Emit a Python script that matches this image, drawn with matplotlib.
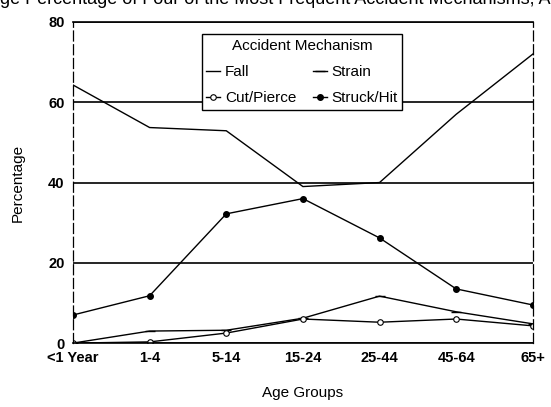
import matplotlib
matplotlib.use("Agg")
import matplotlib.pyplot as plt

age_groups = ["<1 Year", "1-4", "5-14", "15-24", "25-44", "45-64", "65+"]
fall = [64.3, 53.7, 52.9, 39.0, 40.0, 57.0, 72.0]
strain = [0.0, 3.0, 3.2, 6.2, 11.7, 7.8, 4.8]
cut_pierce = [0.0, 0.3, 2.5, 6.0, 5.2, 6.0, 4.3]
struck_hit = [7.0, 11.8, 32.2, 36.0, 26.2, 13.5, 9.5]

plt.rcParams["font.family"] = ["Liberation Sans", "DejaVu Sans"]

fig = plt.figure(figsize=(5.51, 4.07), dpi=100)
ax = fig.add_axes([0.1325, 0.157, 0.8345, 0.789])

x = range(len(age_groups))
l_fall, = ax.plot(x, fall, color="black", lw=1.0, label="Fall")
l_strain, = ax.plot(x, strain, color="black", lw=1.0, marker="_", ms=7, mew=1.0,
                    label="Strain")
l_cut, = ax.plot(x, cut_pierce, color="black", lw=1.0, marker="o", ms=4, mfc="white",
                 mew=0.8, label="Cut/Pierce")
l_hit, = ax.plot(x, struck_hit, color="black", lw=1.0, marker="o", ms=4,
                 label="Struck/Hit")

ax.set_xlim(0, 6)
ax.set_ylim(0, 80)
ax.set_yticks([0, 20, 40, 60, 80])
ax.set_xticks(list(x))
ax.set_xticklabels(age_groups)
ax.tick_params(length=0, labelsize=10.5, pad=6)
for lab in ax.get_xticklabels() + ax.get_yticklabels():
    lab.set_fontweight("bold")
ax.yaxis.grid(True, color="black", lw=1.2)
ax.set_axisbelow(True)

for side in ("left", "right"):
    ax.spines[side].set_linestyle((0, (8, 3)))
    ax.spines[side].set_linewidth(0.9)
ax.spines["top"].set_linewidth(1.2)
ax.spines["bottom"].set_linewidth(1.2)

ax.set_ylabel("Percentage", fontsize=11, labelpad=17)
ax.set_xlabel("Age Groups", fontsize=11, labelpad=15)

# column-wise fill: row 1 = Fall, Strain; row 2 = Cut/Pierce, Struck/Hit
leg = ax.legend([l_fall, l_cut, l_strain, l_hit],
                ["Fall", "Cut/Pierce", "Strain", "Struck/Hit"],
                title="Accident Mechanism", ncol=2, loc="upper center",
                bbox_to_anchor=(0.498, 0.985), fontsize=11, title_fontsize=11,
                frameon=True, fancybox=False, edgecolor="black", framealpha=1,
                handlelength=0.9, handletextpad=0.3, columnspacing=1.1,
                borderpad=0.3, labelspacing=0.8)
leg.get_frame().set_linewidth(1.0)

fig.text(0.5, 1.0, "ge Percentage of Four of the Most Frequent Accident Mechanisms, A",
         ha="center", va="center", fontsize=13)

fig.savefig("out.png", dpi=100)
plt.close(fig)
